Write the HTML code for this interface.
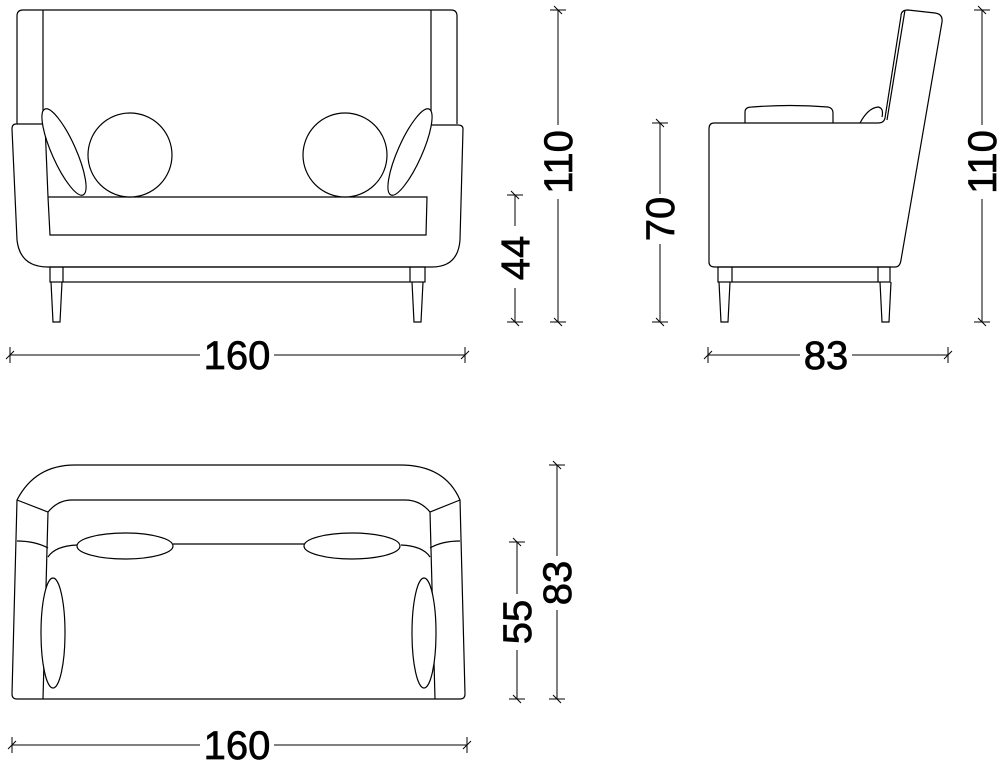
<!DOCTYPE html>
<html><head><meta charset="utf-8"><style>
html,body{margin:0;padding:0;background:#fff}
svg{display:block}
text{font-family:"Liberation Sans",Arial,sans-serif;font-size:40px;fill:#000;stroke:#000;stroke-width:0.7}
</style></head><body>
<svg width="1000" height="762" viewBox="0 0 1000 762" xmlns="http://www.w3.org/2000/svg">
<g fill="none" stroke="#000" stroke-width="1.2">
<!-- FRONT VIEW -->
<path d="M17,124 L17,16 Q17,10 23,10 L451,10 Q457,10 457,16 L457,124"/>
<line x1="43" y1="10" x2="43" y2="124"/>
<line x1="431" y1="10" x2="431" y2="124"/>
<path d="M43,124 L16,124 Q12,124 12,129 L17,240 Q20,267 48,267 L432,267 Q458,267 460,240 L463,129 Q463,125 458,125 L431,125"/>
<path d="M45,124 L48,197 L50,235 L426,235 L427,197 L48,197"/>
<rect x="50" y="267" width="375" height="15"/>
<line x1="63" y1="267" x2="63" y2="282"/>
<line x1="410" y1="267" x2="410" y2="282"/>
<path d="M51,282 L53,322 L60,322 L62,282"/>
<path d="M412,282 L414,322 L421,322 L423,282"/>
<circle cx="130" cy="155" r="42" fill="#fff"/>
<circle cx="345" cy="155" r="42" fill="#fff"/>
<ellipse cx="64" cy="152" rx="12" ry="47" transform="rotate(-24 64 152)" fill="#fff"/>
<ellipse cx="410" cy="152" rx="12" ry="47" transform="rotate(24 410 152)" fill="#fff"/>

<!-- SIDE VIEW -->
<path d="M745,123 L745,112 Q745,107 752,107 Q790,104 828,107 Q833,108 833,113 L833,123"/>
<path d="M860,123 Q868,108 878,107 Q884,108 882,117"/>
<path d="M714,123 Q709,123 709,129 L709,262 Q709,267 715,267 L895,267 Q900,267 901,260 L942,22 Q943,14 935,13 L908,10 Q901,10 901,16 L885,118 Q884,123 878,123 Z"/>
<line x1="905" y1="10" x2="887" y2="120"/>
<rect x="718" y="267" width="172" height="15"/>
<line x1="732" y1="267" x2="732" y2="282"/><line x1="878" y1="267" x2="878" y2="282"/>
<path d="M719,282 L721,322 L728,322 L730,282"/>
<path d="M880,282 L882,322 L889,322 L891,282"/>

<!-- TOP VIEW -->
<path d="M12,694 L17,500 Q35,465 75,465 L400,465 Q445,465 460,500 L465,694 Q465,699 460,699 L17,699 Q12,699 12,694 Z"/>
<path d="M17,500 L48,512 Q58,500 72,500 L405,500 Q420,500 430,512 L460,500"/>
<path d="M48,512 L43,699"/>
<path d="M430,512 L435,699"/>
<path d="M17,541 Q35,541 48,548"/>
<path d="M460,541 Q442,541 430,548"/>
<path d="M48,557 Q55,546 77,545"/>
<path d="M430,557 Q423,546 401,545"/>
<line x1="173" y1="544" x2="305" y2="544"/>
<ellipse cx="125" cy="546" rx="48" ry="13" fill="#fff"/>
<ellipse cx="352" cy="546" rx="48" ry="13" fill="#fff"/>
<ellipse cx="53" cy="633" rx="12" ry="55" fill="#fff"/>
<ellipse cx="424" cy="633" rx="12" ry="55" fill="#fff"/>
</g>

<!-- DIMENSIONS -->
<g stroke="#000" stroke-width="1" fill="none">
<line x1="10" y1="355" x2="465" y2="355"/>
<line x1="10" y1="347" x2="10" y2="363"/><line x1="6" y1="359" x2="14" y2="351"/>
<line x1="465" y1="347" x2="465" y2="363"/><line x1="461" y1="359" x2="469" y2="351"/>
<line x1="515" y1="195" x2="515" y2="322"/>
<line x1="507" y1="195" x2="523" y2="195"/><line x1="511" y1="191" x2="519" y2="199"/>
<line x1="507" y1="322" x2="523" y2="322"/><line x1="511" y1="318" x2="519" y2="326"/>
<line x1="558" y1="10" x2="558" y2="322"/>
<line x1="550" y1="10" x2="566" y2="10"/><line x1="554" y1="6" x2="562" y2="14"/>
<line x1="550" y1="322" x2="566" y2="322"/><line x1="554" y1="318" x2="562" y2="326"/>
<line x1="660" y1="123" x2="660" y2="322"/>
<line x1="652" y1="123" x2="668" y2="123"/><line x1="656" y1="119" x2="664" y2="127"/>
<line x1="652" y1="322" x2="668" y2="322"/><line x1="656" y1="318" x2="664" y2="326"/>
<line x1="982" y1="10" x2="982" y2="322"/>
<line x1="974" y1="10" x2="990" y2="10"/><line x1="978" y1="6" x2="986" y2="14"/>
<line x1="974" y1="322" x2="990" y2="322"/><line x1="978" y1="318" x2="986" y2="326"/>
<line x1="708" y1="355" x2="948" y2="355"/>
<line x1="708" y1="347" x2="708" y2="363"/><line x1="704" y1="359" x2="712" y2="351"/>
<line x1="948" y1="347" x2="948" y2="363"/><line x1="944" y1="359" x2="952" y2="351"/>
<line x1="12" y1="745" x2="467" y2="745"/>
<line x1="12" y1="737" x2="12" y2="753"/><line x1="8" y1="749" x2="16" y2="741"/>
<line x1="467" y1="737" x2="467" y2="753"/><line x1="463" y1="749" x2="471" y2="741"/>
<line x1="517" y1="542" x2="517" y2="699"/>
<line x1="509" y1="542" x2="525" y2="542"/><line x1="513" y1="538" x2="521" y2="546"/>
<line x1="509" y1="699" x2="525" y2="699"/><line x1="513" y1="695" x2="521" y2="703"/>
<line x1="557" y1="465" x2="557" y2="699"/>
<line x1="549" y1="465" x2="565" y2="465"/><line x1="553" y1="461" x2="561" y2="469"/>
<line x1="549" y1="699" x2="565" y2="699"/><line x1="553" y1="695" x2="561" y2="703"/>
</g>

<g fill="#fff">
<rect x="200" y="340" width="74" height="30"/>
<rect x="500" y="226" width="30" height="62"/>
<rect x="543" y="125" width="30" height="74"/>
<rect x="645" y="194" width="30" height="50"/>
<rect x="967" y="125" width="30" height="74"/>
<rect x="800" y="340" width="52" height="30"/>
<rect x="200" y="730" width="74" height="30"/>
<rect x="502" y="594" width="30" height="56"/>
<rect x="542" y="556" width="30" height="54"/>
</g>
<text x="237" y="369" text-anchor="middle">160</text>
<text x="826" y="369" text-anchor="middle">83</text>
<text x="237" y="759" text-anchor="middle">160</text>
<text transform="translate(529,258) rotate(-90)" text-anchor="middle">44</text>
<text transform="translate(572,162) rotate(-90)" text-anchor="middle">110</text>
<text transform="translate(674,219) rotate(-90)" text-anchor="middle">70</text>
<text transform="translate(996,162) rotate(-90)" text-anchor="middle">110</text>
<text transform="translate(531,622) rotate(-90)" text-anchor="middle">55</text>
<text transform="translate(571,583) rotate(-90)" text-anchor="middle">83</text>
</svg>
</body></html>
